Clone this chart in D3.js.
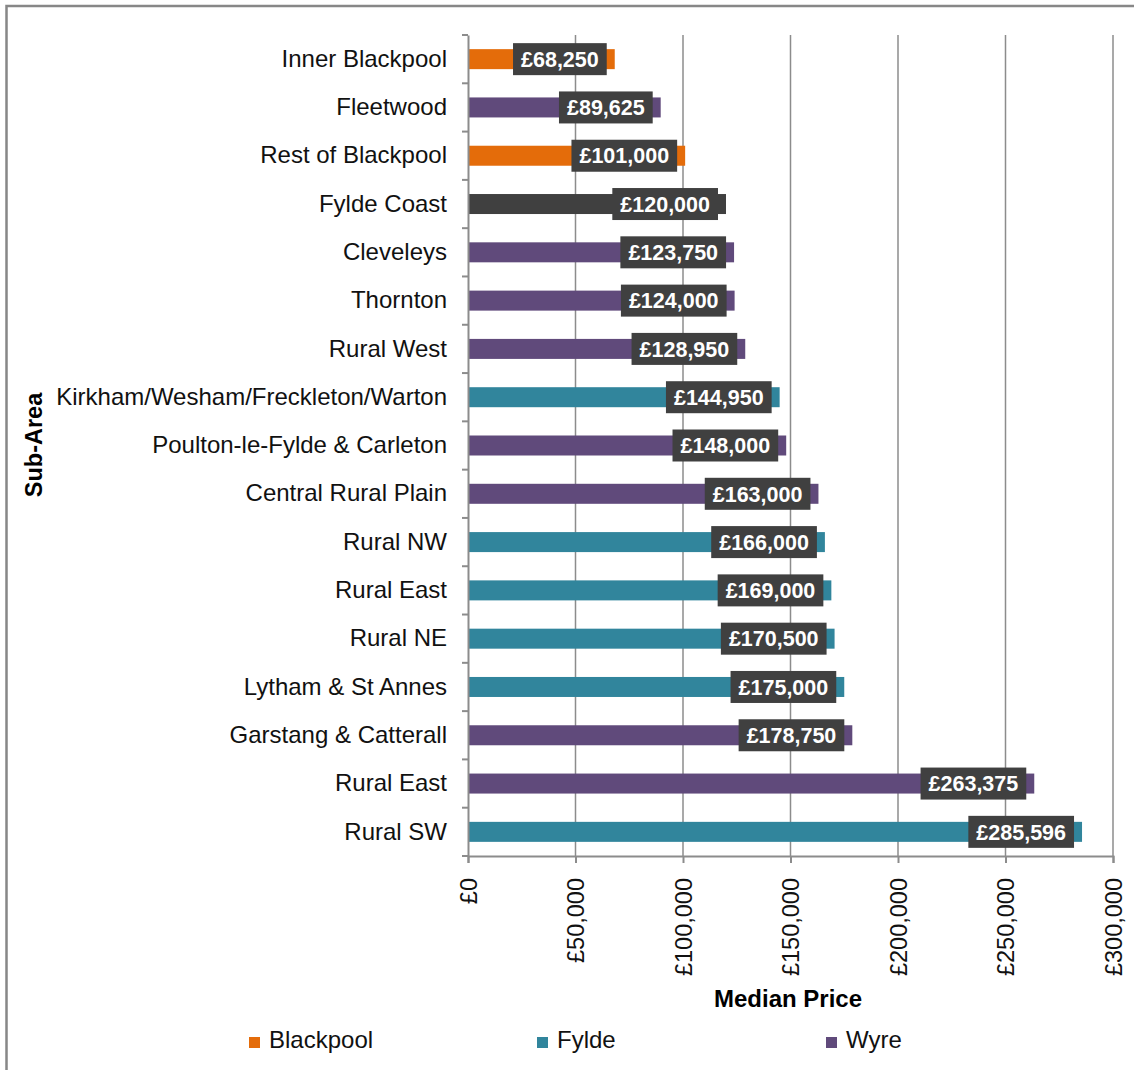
<!DOCTYPE html>
<html>

<head>
    <title>Median Price by Sub-Area</title>
    <script src="https://d3js.org/d3.v7.min.js"></script>
    <style>
        body { margin: 0; background: white; }
        text { font-family: Arial, 'Liberation Sans', sans-serif; }
    </style>
</head>

<body>
    <div id="chart"></div>

    <script>
        // Data
        const subAreas = ['Inner Blackpool', 'Fleetwood', 'Rest of Blackpool', 'Fylde Coast', 'Cleveleys',
                          'Thornton', 'Rural West', 'Kirkham/Wesham/Freckleton/Warton',
                          'Poulton-le-Fylde & Carleton', 'Central Rural Plain', 'Rural NW', 'Rural East',
                          'Rural NE', 'Lytham & St Annes', 'Garstang & Catterall', 'Rural East', 'Rural SW'];
        const medianPrices = [68250, 89625, 101000, 120000, 123750, 124000, 128950, 144950, 148000,
                              163000, 166000, 169000, 170500, 175000, 178750, 263375, 285596];
        const districts = ['Blackpool', 'Wyre', 'Blackpool', 'Fylde Coast', 'Wyre', 'Wyre', 'Wyre', 'Fylde',
                           'Wyre', 'Wyre', 'Fylde', 'Fylde', 'Fylde', 'Fylde', 'Wyre', 'Wyre', 'Fylde'];
        const xTicks = [0, 50000, 100000, 150000, 200000, 250000, 300000];
        const legendItems = ['Blackpool', 'Fylde', 'Wyre'];

        const districtColors = {
            'Blackpool': '#E46C0A',
            'Fylde': '#31859C',
            'Wyre': '#604A7B',
            'Fylde Coast': '#404040'
        };

        const chartWidth = 1134;
        const chartHeight = 1070;
        const plotLeft = 468, plotRight = 1113, plotTop = 35, plotBottom = 856;
        const gridColor = '#8c8c8c';

        let svg = d3.select('#chart').append('svg')
                    .attr('width', chartWidth)
                    .attr('height', chartHeight);

        // Outer frame (runs off the right and bottom edges)
        svg.append('rect')
           .attr('x', 6.5)
           .attr('y', 6)
           .attr('width', 1200)
           .attr('height', 1200)
           .attr('fill', 'none')
           .attr('stroke', '#878787')
           .attr('stroke-width', 2.5);

        // Scales
        const priceScale = d3.scaleLinear()
                             .domain([0, 300000])
                             .range([plotLeft, plotRight]);
        const areaScale = d3.scaleBand()
                            .domain(d3.range(subAreas.length))
                            .range([plotTop, plotBottom]);
        const barHeight = 20;
        const fmt = (v) => '£' + d3.format(',')(v);

        // Vertical grid lines
        xTicks.slice(1).forEach((t) => {
            svg.append('line')
               .attr('x1', priceScale(t))
               .attr('x2', priceScale(t))
               .attr('y1', plotTop)
               .attr('y2', plotBottom)
               .attr('stroke', gridColor)
               .attr('stroke-width', 1.5);
        });

        // Bars
        medianPrices.forEach((d, i) => {
            svg.append('rect')
               .attr('x', priceScale(0))
               .attr('y', areaScale(i) + areaScale.bandwidth() / 2 - barHeight / 2)
               .attr('width', priceScale(d) - priceScale(0))
               .attr('height', barHeight)
               .attr('fill', districtColors[districts[i]]);
        });

        // Data labels in dark boxes, inside end
        medianPrices.forEach((d, i) => {
            const cy = areaScale(i) + areaScale.bandwidth() / 2;
            const g = svg.append('g');
            const label = g.append('text')
                           .attr('x', priceScale(d) - 16)
                           .attr('y', cy)
                           .attr('dy', '0.36em')
                           .attr('text-anchor', 'end')
                           .attr('fill', 'white')
                           .attr('font-weight', 'bold')
                           .attr('font-size', '21.5px')
                           .text(fmt(d));
            const w = label.node().getComputedTextLength();
            g.insert('rect', 'text')
             .attr('x', priceScale(d) - 8 - w - 16)
             .attr('y', cy - 16)
             .attr('width', w + 16)
             .attr('height', 32)
             .attr('fill', '#404040');
        });

        // Y axis
        const yAxis = d3.axisLeft(areaScale)
                        .tickSize(0)
                        .tickFormat((i) => subAreas[i]);
        const yAxisG = svg.append('g')
                          .attr('transform', `translate(${plotLeft},0)`)
                          .call(yAxis);
        yAxisG.select('.domain').attr('stroke', gridColor).attr('stroke-width', 2);
        yAxisG.selectAll('text')
              .attr('x', -21)
              .attr('font-size', '24px')
              .attr('font-family', 'Arial, "Liberation Sans", sans-serif')
              .attr('fill', '#111');

        // Y axis ticks between categories
        d3.range(subAreas.length + 1).forEach((i) => {
            const y = plotTop + i * areaScale.step();
            svg.append('line')
               .attr('x1', plotLeft - 6)
               .attr('x2', plotLeft)
               .attr('y1', y)
               .attr('y2', y)
               .attr('stroke', gridColor)
               .attr('stroke-width', 2);
        });

        // X axis
        const xAxis = d3.axisBottom(priceScale)
                        .tickValues(xTicks)
                        .tickSize(7)
                        .tickFormat(fmt);
        const xAxisG = svg.append('g')
                          .attr('transform', `translate(0,${plotBottom})`)
                          .call(xAxis);
        xAxisG.select('.domain').attr('stroke', gridColor).attr('stroke-width', 2);
        xAxisG.selectAll('line').attr('stroke', gridColor).attr('stroke-width', 2);
        xAxisG.selectAll('text')
              .attr('transform', 'rotate(-90)')
              .attr('x', -22)
              .attr('y', 0)
              .attr('dy', '0.35em')
              .attr('text-anchor', 'end')
              .attr('font-size', '23.5px')
              .attr('font-family', 'Arial, "Liberation Sans", sans-serif')
              .attr('fill', '#111');

        // Axis titles
        svg.append('text')
           .attr('x', 788)
           .attr('y', 1007)
           .attr('text-anchor', 'middle')
           .attr('font-weight', 'bold')
           .attr('font-size', '24px')
           .text('Median Price');

        svg.append('text')
           .attr('transform', 'translate(42,445) rotate(-90)')
           .attr('text-anchor', 'middle')
           .attr('font-weight', 'bold')
           .attr('font-size', '23.5px')
           .text('Sub-Area');

        // Legend
        const legendX = [249, 537, 826];
        legendItems.forEach((name, i) => {
            svg.append('rect')
               .attr('x', legendX[i])
               .attr('y', 1037)
               .attr('width', 11)
               .attr('height', 11)
               .attr('fill', districtColors[name]);
            svg.append('text')
               .attr('x', legendX[i] + 20)
               .attr('y', 1048)
               .attr('font-size', '24px')
               .attr('fill', '#111')
               .text(name);
        });
    </script>
</body>

</html>
